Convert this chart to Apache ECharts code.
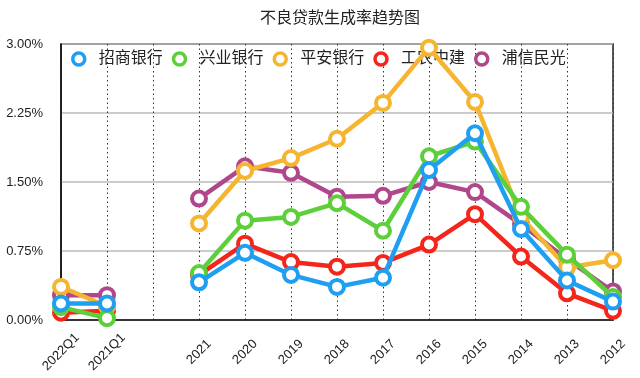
<!DOCTYPE html>
<html>
<head>
<meta charset="utf-8">
<script src="https://cdn.jsdelivr.net/npm/echarts@6/dist/echarts.min.js"></script>
<style>html,body{margin:0;padding:0;background:#fff;}#main{width:640px;height:378px;}</style>
</head>
<body>
<div id="main"></div>
<script>
var categories = ['2022Q1','2021Q1','','2021','2020','2019','2018','2017','2016','2015','2014','2013','2012'];
var seriesNames = ['招商银行','兴业银行','平安银行','工农中建','浦信民光'];
var cmb   = [0.18, 0.18, null, 0.41, 0.73, 0.49, 0.36, 0.46, 1.63, 2.03, 0.99, 0.43, 0.20];
var cib   = [0.14, 0.02, null, 0.51, 1.08, 1.12, 1.27, 0.97, 1.78, 1.94, 1.23, 0.71, 0.25];
var pab   = [0.36, 0.15, null, 1.05, 1.62, 1.76, 1.97, 2.36, 2.96, 2.37, 1.12, 0.57, 0.65];
var big4  = [0.08, 0.10, null, 0.49, 0.83, 0.63, 0.58, 0.62, 0.82, 1.15, 0.69, 0.29, 0.10];
var others= [0.27, 0.27, null, 1.32, 1.67, 1.60, 1.34, 1.35, 1.50, 1.39, 1.04, 0.66, 0.31];
var yTicks = [0, 0.75, 1.5, 2.25, 3];
var colors = ['#1E9FF2','#5CCF3A','#F5B530','#F4261C','#B0478A'];

var FONT = '"Liberation Sans", "Noto Sans CJK SC", sans-serif';
var dataSets = [cmb, cib, pab, big4, others];
var series = dataSets.map(function (d, i) {
  return {
    name: seriesNames[i],
    type: 'line',
    data: d,
    z: 20 - i,
    symbol: 'circle',
    symbolSize: 14,
    lineStyle: { width: 4.5, color: colors[i] },
    itemStyle: { color: '#fff', borderWidth: 4, borderColor: colors[i] },
    emphasis: { disabled: true }
  };
});

var chart = echarts.init(document.getElementById('main'), null, { renderer: 'canvas' });
chart.setOption({
  animation: false,
  textStyle: { fontFamily: FONT },
  title: {
    text: '不良贷款生成率趋势图',
    left: 255, top: 6,
    textStyle: { fontSize: 16, fontWeight: 'normal', color: '#222', fontFamily: FONT }
  },
  legend: {
    data: seriesNames.map(function (n, i) {
      return { name: n, icon: 'circle', itemStyle: { color: '#fff', borderColor: colors[i], borderWidth: 3.5 } };
    }),
    left: 66, top: 46,
    itemWidth: 12, itemHeight: 12,
    itemGap: 9,
    textStyle: { fontSize: 16, color: '#222', padding: [0, 0, 0, 9], fontFamily: FONT }
  },
  grid: {
    left: 61, right: 27, top: 44, bottom: 58,
    show: true, borderColor: '#222', borderWidth: 1.5, backgroundColor: '#fff'
  },
  xAxis: {
    type: 'category',
    data: categories,
    boundaryGap: false,
    axisLine: { lineStyle: { color: '#111', width: 1.5 } },
    axisTick: { show: false },
    axisLabel: { rotate: 45, fontSize: 13, color: '#222', margin: 32, interval: 0,
      align: 'center', verticalAlign: 'middle', fontFamily: FONT },
    splitLine: { show: true, lineStyle: { type: [1.5, 3], color: '#333', width: 1 } }
  },
  yAxis: {
    type: 'value',
    min: yTicks[0], max: yTicks[yTicks.length - 1], interval: yTicks[1] - yTicks[0],
    axisLine: { show: true, lineStyle: { color: '#111', width: 1.5 } },
    axisTick: { show: false },
    axisLabel: { fontSize: 13, color: '#222', margin: 18, fontFamily: FONT,
      formatter: function (v) { return v.toFixed(2) + '%'; } },
    splitLine: { show: true, lineStyle: { color: '#bbb', width: 1.5 } }
  },
  series: series
});
</script>
</body>
</html>
